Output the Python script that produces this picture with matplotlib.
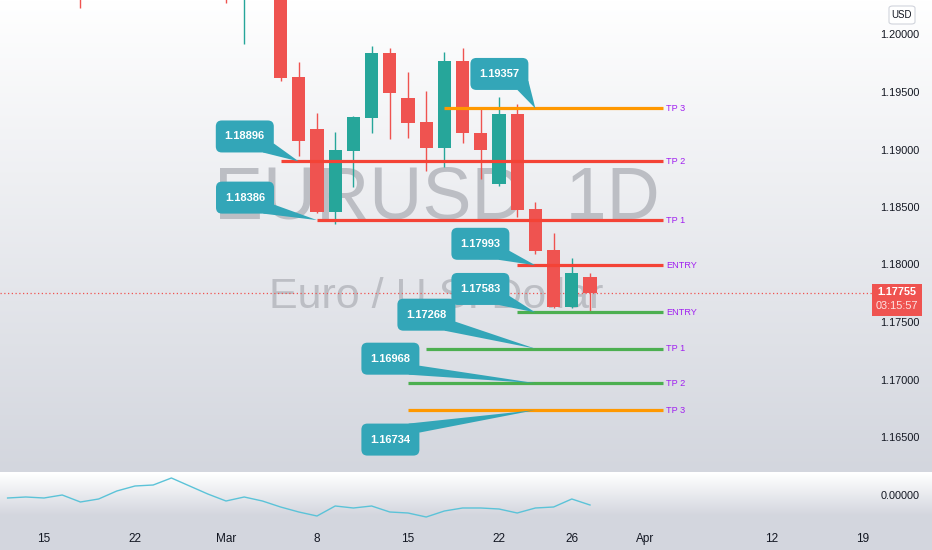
import numpy as np
import pandas as pd
import matplotlib.pyplot as plt
from matplotlib.patches import Rectangle, FancyBboxPatch, Polygon

plt.rcParams['font.family'] = ['Liberation Sans', 'DejaVu Sans']

# daily EURUSD bars, Feb 11 - Mar 29 2021 (values above the view are guesses)
dates = pd.bdate_range('2021-02-11', '2021-03-29')
opens = [1.2119, 1.2133, 1.2118, 1.2128, 1.2105, 1.2040, 1.2092, 1.2118, 1.2156, 1.2150,
         1.2167, 1.2176, 1.2075, 1.2047, 1.2090, 1.2062, 1.1963, 1.1918, 1.1846, 1.1899,
         1.1927, 1.1984, 1.1945, 1.1924, 1.1901, 1.1977, 1.1914, 1.1870, 1.1931, 1.1848,
         1.1813, 1.1763, 1.1789]
highs = [1.2150, 1.2146, 1.2169, 1.2144, 1.2108, 1.2093, 1.2145, 1.2169, 1.2180, 1.2175,
         1.2243, 1.2183, 1.2113, 1.2091, 1.2114, 1.2070, 1.1976, 1.1932, 1.1915, 1.1929,
         1.1990, 1.1988, 1.1967, 1.1951, 1.1985, 1.1988, 1.1937, 1.1946, 1.1940, 1.1854,
         1.1827, 1.1806, 1.1793]
lows = [1.2112, 1.2092, 1.2110, 1.2082, 1.2023, 1.2038, 1.2082, 1.2091, 1.2131, 1.2111,
        1.2162, 1.2069, 1.2027, 1.1992, 1.2043, 1.1960, 1.1894, 1.1845, 1.1835, 1.1867,
        1.1914, 1.1909, 1.1910, 1.1881, 1.1885, 1.1906, 1.1874, 1.1868, 1.1841, 1.1809,
        1.1762, 1.1762, 1.1760]
closes = [1.2133, 1.2118, 1.2128, 1.2105, 1.2040, 1.2092, 1.2118, 1.2156, 1.2150, 1.2167,
          1.2176, 1.2075, 1.2047, 1.2090, 1.2062, 1.1962, 1.1907, 1.1846, 1.1900, 1.1928,
          1.1984, 1.1949, 1.1923, 1.1901, 1.1977, 1.1914, 1.1900, 1.1931, 1.1847, 1.1812,
          1.1763, 1.1793, 1.17755]
osc = [-0.0003, -0.0002, -0.0003, 0.0000, -0.0007, -0.0004, 0.0004, 0.0009, 0.0010, 0.0017,
       0.0009, 0.0001, -0.0006, -0.0002, -0.0006, -0.0012, -0.0017, -0.0021, -0.0011, -0.0013,
       -0.0011, -0.0017, -0.0018, -0.0022, -0.0016, -0.0013, -0.0013, -0.0014, -0.0018, -0.0013,
       -0.0012, -0.0004, -0.0010]

levels = [1.19357, 1.18896, 1.18386, 1.17993, 1.17583, 1.17268, 1.16968, 1.16734]
level_names = ['TP 3', 'TP 2', 'TP 1', 'ENTRY', 'ENTRY', 'TP 1', 'TP 2', 'TP 3']
level_colors = ['#ff9800', '#f44336', '#f44336', '#f44336', '#4caf50', '#4caf50', '#4caf50', '#ff9800']
level_start = ['2021-03-17', '2021-03-04', '2021-03-08', '2021-03-23', '2021-03-23',
               '2021-03-16', '2021-03-15', '2021-03-15']
level_end = '2021-04-02'
tip_dates = ['2021-03-24', '2021-03-05', '2021-03-08', '2021-03-24', '2021-03-24',
             '2021-03-24', '2021-03-24', '2021-03-24']
# callout box centre offset from the tip, in pixels (dy > 0 means below)
box_off = [(-36, -34.5), (-54, -25), (-72, -22.5), (-55, -21.5), (-55, -23.5),
           (-109, -34), (-145, -24.5), (-145, 29.5)]

tick_dates = ['2021-02-15', '2021-02-22', '2021-03-01', '2021-03-08', '2021-03-15',
              '2021-03-22', '2021-03-26', '2021-04-01', '2021-04-12', '2021-04-19']
tick_labels = ['15', '22', 'Mar', '8', '15', '22', '26', 'Apr', '12', '19']
price_ticks = [1.165, 1.170, 1.175, 1.180, 1.185, 1.190, 1.195, 1.200]
last_price = 1.17755
countdown = '03:15:57'

calendar = pd.bdate_range('2021-02-11', '2021-04-30')


def bar(d):
    return calendar.get_loc(pd.Timestamp(d))


W, H = 932, 550
PX = 1 / 18.2          # bars per pixel
PY = 0.005 / 57.5      # price per pixel
teal_up, red_dn = '#26a69a', '#ef5350'
call_c = '#33a6b8'
txt_c = '#131722'

fig = plt.figure(figsize=(W / 100, H / 100), dpi=100)

# background gradient
top = np.array([255, 255, 255]) / 255
bot = np.array([211, 214, 222]) / 255
rows = np.zeros((H, 1, 3))
for r in range(H):
    if r < 472:
        t = r / 472
    elif r < 522:
        t = min(1, (r - 473) / 42)
    else:
        t = 1
    rows[r, 0] = top * (1 - t) + bot * t
bg = fig.add_axes([0, 0, 1, 1], zorder=-10)
bg.imshow(rows, aspect='auto', extent=[0, 1, 0, 1])
bg.axis('off')

ax = fig.add_axes([0, 1 - 472 / H, 872 / W, 472 / H])
ax2 = fig.add_axes([0, 28 / H, 872 / W, 49 / H])
for a in (ax, ax2):
    a.patch.set_alpha(0)
    for s in a.spines.values():
        s.set_visible(False)

x0 = 2 - 44 / 18.2
ax.set_xlim(x0, x0 + 872 / 18.2)
ax.set_ylim(1.2 - 437.5 * PY, 1.2 + 34.5 * PY)
ax2.set_xlim(x0, x0 + 872 / 18.2)
ax2.set_ylim(-27 * 0.0001, 22 * 0.0001)

# watermark
wm = '#bcbec4'
ax.text(437 / 872, 1 - 219 / 472, 'EURUSD, 1D', transform=ax.transAxes, ha='center',
        va='baseline', fontsize=53, color=wm, zorder=1)
ax.text(436 / 872, 1 - 308 / 472, 'Euro / U.S. Dollar', transform=ax.transAxes, ha='center',
        va='baseline', fontsize=31, color=wm, zorder=1)

# candles
for i in range(len(dates)):
    o, h, l, c = opens[i], highs[i], lows[i], closes[i]
    col = teal_up if c >= o else red_dn
    ax.vlines(i, l, h, color=col, lw=1.0, zorder=2)
    ax.add_patch(Rectangle((i - 0.36, min(o, c)), 0.72, abs(c - o), fc=col, ec='none', zorder=3))

ax.axhline(last_price, color=red_dn, ls=(0, (1, 2)), lw=0.9, zorder=2)

# levels and callouts
for k, lv in enumerate(levels):
    xs, xe = bar(level_start[k]), bar(level_end)
    ax.hlines(lv, xs, xe, color=level_colors[k], lw=2.3, zorder=4)
    ax.text(xe + 3 * PX, lv, level_names[k], ha='left', va='center', fontsize=6.6,
            color='#a020f0', zorder=4)

for k, lv in enumerate(levels):
    tx, ty = bar(tip_dates[k]), lv
    dx, dy = box_off[k]
    w, h = 58 * PX, 32 * PY
    cx, cy = tx + dx * PX, ty - dy * PY
    bx, by = cx - w / 2, cy - h / 2
    ax.add_patch(FancyBboxPatch((bx, by), w, h, boxstyle='round,pad=0,rounding_size=%f' % (6 * PX),
                                mutation_aspect=PY / PX, fc=call_c, ec='none', zorder=6))
    if dy < 0:
        base = [(bx + w - 11 * PX, by), (bx + w, by + 9 * PY)]
    else:
        base = [(bx + w - 11 * PX, by + h), (bx + w, by + h - 9 * PY)]
    ax.add_patch(Polygon(base + [(tx, ty)], closed=True, fc=call_c, ec='none', zorder=6))
    ax.text(cx, cy, '%.5f' % lv, ha='center', va='center', color='white', fontsize=8,
            fontweight='bold', zorder=7)

# price scale
ax.yaxis.tick_right()
ax.set_yticks(price_ticks)
ax.set_yticklabels(['%.5f' % p for p in price_ticks])
ax.tick_params(axis='y', length=0, pad=6, labelsize=7.8, labelcolor=txt_c)
ax.set_xticks([])

# oscillator pane
ax2.plot(range(len(dates)), osc, color='#5bc3d8', lw=1.0)
ax2.yaxis.tick_right()
ax2.set_yticks([0])
ax2.set_yticklabels(['0.00000'])
ax2.tick_params(axis='y', length=0, pad=6, labelsize=7.8, labelcolor=txt_c)
ax2.set_xticks([bar(d) for d in tick_dates])
ax2.set_xticklabels(tick_labels)
ax2.tick_params(axis='x', length=0, pad=8, labelsize=8.5, labelcolor=txt_c)

# last price badge
fig.add_artist(Rectangle((872 / W, 1 - 316 / H), 50 / W, 32 / H, fc=red_dn, ec='none',
                         transform=fig.transFigure))
fig.text(897 / W, 1 - 292 / H, '%.5f' % last_price, ha='center', va='center', color='white',
         fontsize=7.8, fontweight='bold')
fig.text(897 / W, 1 - 306 / H, countdown, ha='center', va='center', color='#fde3e3', fontsize=7.8)

# currency badge
fig.add_artist(FancyBboxPatch((889 / W, 1 - 24 / H), 26 / W, 18 / H,
                              boxstyle='round,pad=0,rounding_size=0.004', fc='white',
                              ec='#d1d4dc', lw=0.8, transform=fig.transFigure))
fig.text(902 / W, 1 - 15 / H, 'USD', ha='center', va='center', color=txt_c, fontsize=7)

fig.savefig('out.png', dpi=100)
